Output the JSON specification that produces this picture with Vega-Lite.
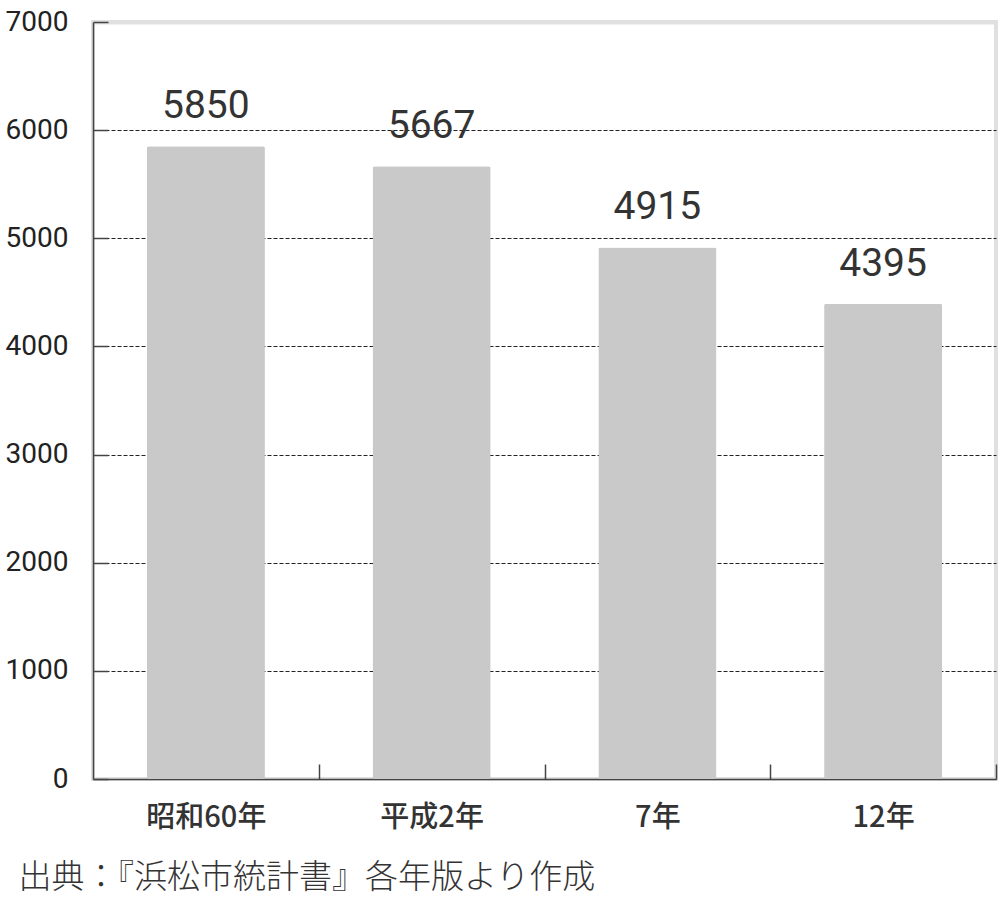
{
  "$schema": "https://vega.github.io/schema/vega-lite/v6.json",
  "width": 903,
  "height": 757,
  "autosize": {"type": "none"},
  "padding": {"left": 93, "top": 22, "right": 4, "bottom": 127},
  "background": "white",
  "config": {
    "view": {"stroke": "#e0e0e0", "strokeWidth": 4},
    "font": "Roboto"
  },
  "data": {
    "values": [
      {"year": "昭和60年", "value": 5850},
      {"year": "平成2年", "value": 5667},
      {"year": "7年", "value": 4915},
      {"year": "12年", "value": 4395}
    ]
  },
  "encoding": {
    "x": {
      "field": "year",
      "type": "nominal",
      "sort": null,
      "scale": {"paddingInner": 0.477, "paddingOuter": 0.2385},
      "axis": {
        "title": "出典：『浜松市統計書』各年版より作成",
        "titleFont": "Noto Sans CJK JP",
        "titleFontWeight": 300,
        "titleFontSize": 33,
        "titleColor": "#333333",
        "titleAnchor": "start",
        "titleAlign": "left",
        "titleBaseline": "alphabetic",
        "titleX": -75,
        "titleY": 108,
        "labelFont": "Noto Sans CJK JP",
        "labelFontSize": 29,
        "labelFontWeight": 500,
        "labelColor": "#333333",
        "labelPadding": 39,
        "labelAngle": 0,
        "labelOffset": -112.875,
        "tickOffset": 112.875,
        "tickSize": -15,
        "tickColor": "#444444",
        "tickWidth": 1.5,
        "domainColor": "#444444",
        "domainWidth": 1.5,
        "grid": false
      }
    },
    "y": {
      "field": "value",
      "type": "quantitative",
      "scale": {"domain": [0, 7000], "nice": false},
      "axis": {
        "title": null,
        "values": [0, 1000, 2000, 3000, 4000, 5000, 6000, 7000],
        "format": "d",
        "labelFont": "Roboto",
        "labelFontSize": 28,
        "labelColor": "#222222",
        "labelPadding": 40,
        "tickSize": -15,
        "tickColor": "#444444",
        "tickWidth": 1.5,
        "domainColor": "#444444",
        "domainWidth": 1.5,
        "grid": true,
        "gridColor": {"condition": {"test": "datum.value >= 7000", "value": "#e0e0e0"}, "value": "#222222"},
        "gridWidth": {"condition": {"test": "datum.value >= 7000", "value": 4}, "value": 1},
        "gridDash": {"condition": {"test": "datum.value >= 7000", "value": []}, "value": [4, 2]}
      }
    }
  },
  "layer": [
    {
      "mark": {"type": "bar", "color": "#c9c9c9", "cornerRadius": 2}
    },
    {
      "mark": {"type": "text", "font": "Roboto", "fontSize": 39, "color": "#333333", "baseline": "middle", "dy": -40},
      "encoding": {"text": {"field": "value", "type": "quantitative", "format": "d"}}
    }
  ]
}
